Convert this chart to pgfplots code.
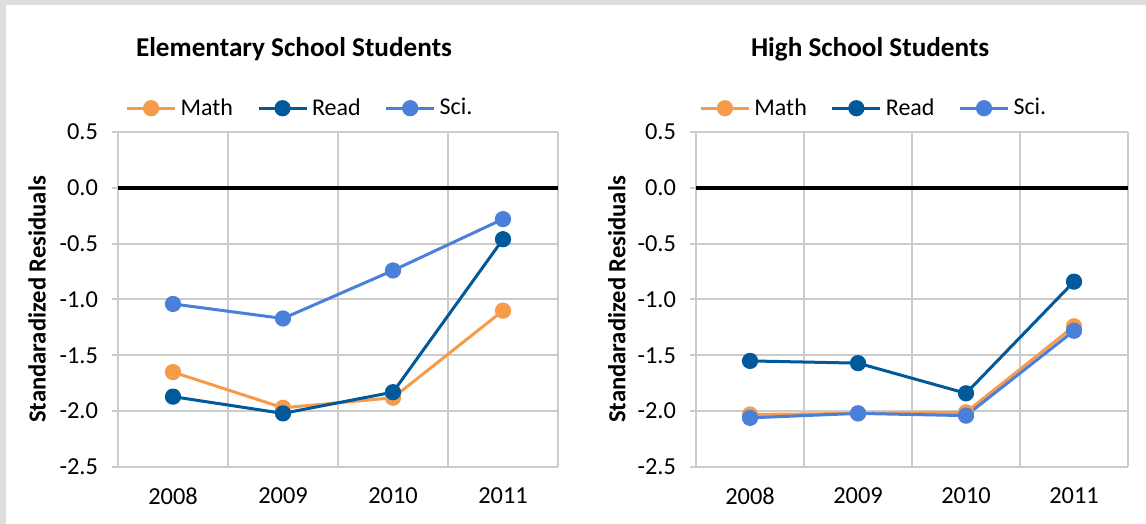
\documentclass[border=0pt]{standalone}
\usepackage{fontspec}
\setmainfont{Carlito}
\usepackage{pgfplots}
\pgfplotsset{compat=1.18}
\definecolor{cMath}{HTML}{F59B4A}
\definecolor{cRead}{HTML}{00599B}
\definecolor{cSci}{HTML}{4A80DA}
\definecolor{cGrid}{HTML}{CCCCCC}
\definecolor{cBg}{HTML}{DEDEDE}
\pgfplotsset{panel/.style={
  scale only axis, height=167.5pt, anchor=south west,
  xmin=0.5, xmax=4.5, ymin=-2.5, ymax=0.5,
  xtick={1,2,3,4}, xticklabels={2008,2009,2010,2011},
  minor xtick={0.5,1.5,2.5,3.5,4.5},
  ytick={-2.5,-2,-1.5,-1,-0.5,0,0.5},
  yticklabels={-2.5,-2.0,-1.5,-1.0,-0.5,0.0,0.5},
  axis line style={draw=none},
  xmajorgrids=false, xminorgrids=true, ymajorgrids=true,
  grid style={cGrid, line width=1pt},
  minor grid style={cGrid, line width=1pt},
  major grid style={cGrid, line width=1pt},
  tick align=outside, ytick pos=left, xtick pos=bottom,
  xtick style={draw=none}, minor tick length=0pt,
  ytick style={cGrid, line width=1pt}, major tick length=3pt,
  tick label style={font=\fontsize{12.2}{14}\selectfont, text=black},
  xticklabel style={yshift=-4pt},
  yticklabel style={xshift=-3.5pt},
  extra y ticks={0}, extra y tick labels={},
  extra y tick style={ymajorgrids=true, major grid style={black, line width=2pt}, major tick length=0pt},
  ylabel={Standaradized Residuals},
  ylabel style={font=\bfseries\fontsize{12.3}{14}\selectfont, anchor=center},
  every axis plot/.append style={line width=1.5pt, mark=*, mark size=3.3pt},
  legend columns=3,
  legend style={draw=none, fill=none, anchor=center, font=\fontsize{12}{14}\selectfont,
    /tikz/every even column/.append style={column sep=10pt}},
  legend image code/.code={\draw[mark repeat=2, mark phase=2] plot coordinates {(0pt,0pt) (12pt,0pt) (24pt,0pt)};},
  legend cell align=left,
  clip=false,
}}
\begin{document}
\begin{tikzpicture}
\useasboundingbox (0,0) rectangle (573pt,262pt);
\fill[cBg] (0,259.5pt) rectangle (573pt,262pt);
\fill[cBg] (0,0) rectangle (3pt,262pt);
\begin{axis}[panel, width=220pt, at={(59pt,28.5pt)},
  ylabel style={at={(axis description cs:-0.184,0.5)}},
  legend style={at={(axis description cs:0.416,1.071)}}]
\addplot[cMath] coordinates {(1,-1.65)(2,-1.97)(3,-1.88)(4,-1.10)};
\addplot[cRead] coordinates {(1,-1.87)(2,-2.02)(3,-1.83)(4,-0.46)};
\addplot[cSci] coordinates {(1,-1.04)(2,-1.17)(3,-0.74)(4,-0.28)};
\legend{Math,Read,Sci.}
\node[font=\bfseries\fontsize{13.6}{16}\selectfont] at (axis description cs:0.4,1.246) {Elementary School Students};
\end{axis}
\begin{axis}[panel, width=216pt, at={(348pt,28.5pt)},
  ylabel style={at={(axis description cs:-0.183,0.5)}},
  legend style={at={(axis description cs:0.414,1.071)}}]
\addplot[cMath] coordinates {(1,-2.03)(2,-2.02)(3,-2.01)(4,-1.24)};
\addplot[cRead] coordinates {(1,-1.55)(2,-1.57)(3,-1.84)(4,-0.84)};
\addplot[cSci] coordinates {(1,-2.06)(2,-2.02)(3,-2.04)(4,-1.28)};
\legend{Math,Read,Sci.}
\node[font=\bfseries\fontsize{13.6}{16}\selectfont] at (axis description cs:0.403,1.246) {High School Students};
\end{axis}
\end{tikzpicture}
\end{document}
